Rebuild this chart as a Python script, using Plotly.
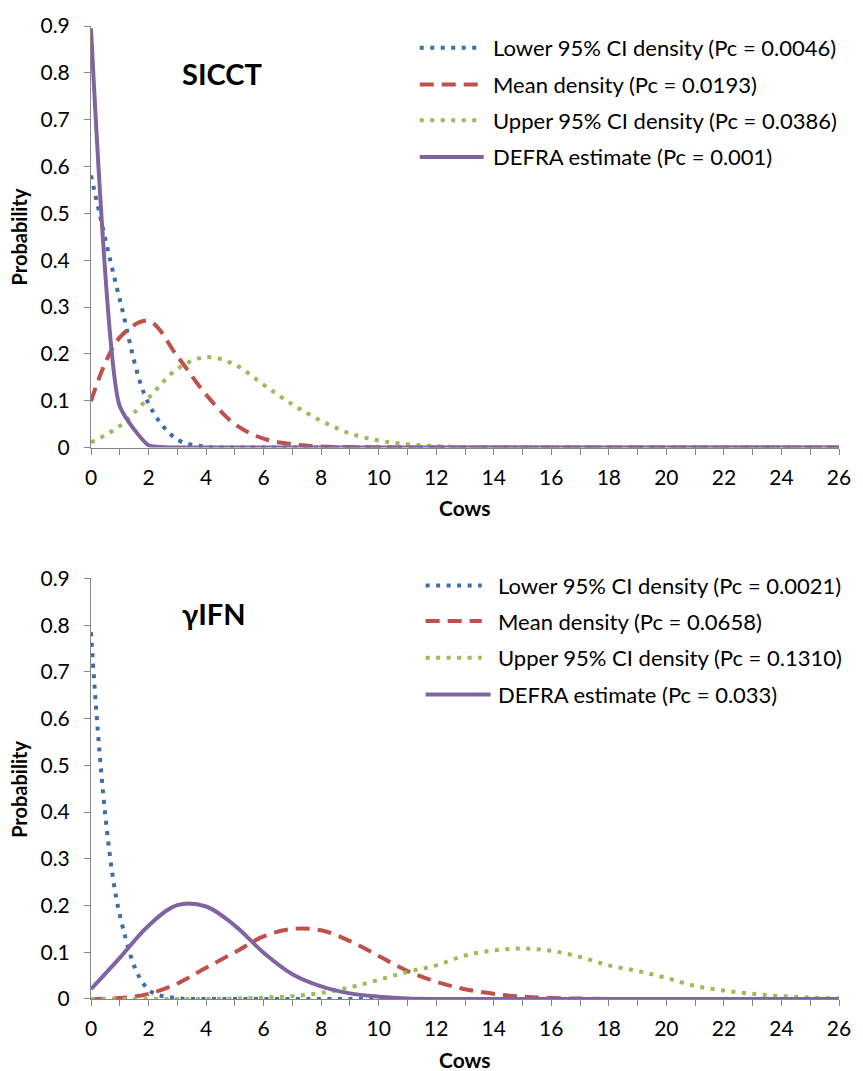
import plotly.graph_objects as go
from plotly.subplots import make_subplots

# ---------------- data ----------------
cows = list(range(27))
x_tick_labels = [str(c) if c % 2 == 0 else "" for c in cows]
y_tick_vals = [0, 0.1, 0.2, 0.3, 0.4, 0.5, 0.6, 0.7, 0.8, 0.9]
y_tick_text = ["0", "0.1", "0.2", "0.3", "0.4", "0.5", "0.6", "0.7", "0.8", "0.9"]

def pad(vals, n=27):
    return vals + [0.0] * (n - len(vals))

# SICCT panel
sicct_lower = pad([0.581, 0.316, 0.094, 0.017, 0.002])
sicct_mean = pad([0.099, 0.235, 0.270, 0.195, 0.113, 0.050, 0.019, 0.007, 0.002, 0.001])
sicct_upper = pad([0.011, 0.046, 0.106, 0.168, 0.193, 0.177, 0.134, 0.092, 0.057,
                   0.030, 0.015, 0.007, 0.003, 0.001])
sicct_defra = pad([0.895, 0.088, 0.005])

# gamma-IFN panel
ifn_lower = pad([0.785, 0.180, 0.020, 0.002])
ifn_mean = pad([0.000, 0.002, 0.011, 0.033, 0.067, 0.100, 0.134, 0.150, 0.147, 0.124,
                0.092, 0.060, 0.037, 0.021, 0.011, 0.005, 0.002, 0.001])
ifn_upper = [0.0, 0.0, 0.0, 0.0, 0.0, 0.001, 0.003, 0.006, 0.013, 0.025, 0.041, 0.058,
             0.072, 0.093, 0.104, 0.108, 0.103, 0.090, 0.072, 0.060, 0.045, 0.028,
             0.018, 0.011, 0.006, 0.003, 0.001]
ifn_defra = pad([0.021, 0.088, 0.157, 0.201, 0.198, 0.157, 0.099, 0.053, 0.027, 0.012,
                 0.005, 0.001])

sicct_names = ["Lower 95% CI density (Pc = 0.0046)", "Mean density (Pc = 0.0193)",
               "Upper 95% CI density (Pc = 0.0386)", "DEFRA estimate (Pc = 0.001)"]
ifn_names = ["Lower 95% CI density (Pc = 0.0021)", "Mean density (Pc = 0.0658)",
             "Upper 95% CI density (Pc = 0.1310)", "DEFRA estimate (Pc = 0.033)"]

# ---------------- styling ----------------
W, H = 863, 1071
ML, MR, MT, MB = 91, 12, 18, 72
PW, PH = W - ML - MR, H - MT - MB
FONT = "Lato"
AXIS_GREY = "#868686"

styles = [
    dict(color="#3E6DA8", width=4, dash="4px,6.5px"),
    dict(color="#C0504D", width=4, dash="14px,8px"),
    dict(color="#9BBB59", width=4, dash="4px,6.5px"),
    dict(color="#8064A2", width=4, dash="solid"),
]

def px(xpix):
    return (xpix - ML) / PW

def py(ypix):
    return (H - MB - ypix) / PH

fig = make_subplots(rows=2, cols=1, vertical_spacing=0.0)

panels = [
    (1, [sicct_lower, sicct_mean, sicct_upper, sicct_defra], sicct_names, [1.0, 1.0, 1.0, 0.5]),
    (2, [ifn_lower, ifn_mean, ifn_upper, ifn_defra], ifn_names, [1.0, 1.0, 1.0, 1.0]),
]
for row, series, names, smooth in panels:
    for vals, name, st, sm in zip(series, names, styles, smooth):
        fig.add_trace(go.Scatter(
            x=cows, y=vals, mode="lines", name=name, showlegend=False,
            line=dict(color=st["color"], width=st["width"], dash=st["dash"],
                      shape="spline", smoothing=sm),
        ), row=row, col=1)

# pixel-exact plot areas
top_dom = [py(443), py(18)]
bot_dom = [py(999), py(575)]

axis_common = dict(showgrid=False, zeroline=False, showline=True, linecolor=AXIS_GREY,
                   linewidth=1, ticks="outside", tickcolor=AXIS_GREY, ticklen=6,
                   ticklabeloverflow="allow",
                   tickfont=dict(family=FONT, size=21, color="#000000"))

for i, dom in ((1, top_dom), (2, bot_dom)):
    fig.update_xaxes(range=[0, 26], tickmode="array", tickvals=cows, ticktext=x_tick_labels,
                     ticklabelstandoff=5, row=i, col=1, **axis_common)
    fig.update_yaxes(range=[0, 0.9], tickmode="array", tickvals=y_tick_vals,
                     ticktext=y_tick_text, domain=dom, ticklabelstandoff=10,
                     row=i, col=1, **axis_common)

annotations = []
shapes = []

# panel labels
annotations.append(dict(text="<b>SICCT</b>", x=px(224), y=py(66), xref="paper", yref="paper",
                        showarrow=False, xanchor="center", yanchor="middle",
                        font=dict(family=FONT, size=29, color="#000000")))
annotations.append(dict(text="<b>γIFN</b>", x=px(216), y=py(610), xref="paper", yref="paper",
                        showarrow=False, xanchor="center", yanchor="middle",
                        font=dict(family=FONT, size=29, color="#000000")))

# axis titles
for yc in (231, 788):
    annotations.append(dict(text="<b>Probability</b>", x=px(18), y=py(yc), xref="paper",
                            yref="paper", showarrow=False, textangle=-90,
                            xanchor="center", yanchor="middle",
                            font=dict(family=FONT, size=20, color="#000000")))
for yc in (503, 1060):
    annotations.append(dict(text="<b>Cows</b>", x=px(471), y=py(yc), xref="paper",
                            yref="paper", showarrow=False, xanchor="center", yanchor="middle",
                            font=dict(family=FONT, size=21, color="#000000")))

# legends drawn beside each panel
legend_specs = [
    (sicct_names, [40, 77, 113, 150], 425, 484, 490, 497),
    (ifn_names, [582, 618, 655, 692], 431, 488, 497, 502),
]
for names, rows_y, x0, x1, x1_solid, tx in legend_specs:
    for name, yy, st in zip(names, rows_y, styles):
        end = x1_solid if st["dash"] == "solid" else x1
        shapes.append(dict(type="line", xref="paper", yref="paper",
                           x0=px(x0), x1=px(end), y0=py(yy), y1=py(yy),
                           line=dict(color=st["color"], width=st["width"], dash=st["dash"])))
        annotations.append(dict(text=name, x=px(tx), y=py(yy), xref="paper", yref="paper",
                                showarrow=False, xanchor="left", yanchor="middle",
                                font=dict(family=FONT, size=22, color="#000000")))

fig.update_layout(
    width=W, height=H,
    margin=dict(l=ML, r=MR, t=MT, b=MB),
    paper_bgcolor="white", plot_bgcolor="white",
    showlegend=False,
    annotations=annotations, shapes=shapes,
    font=dict(family=FONT),
)

fig.write_html("out.html")
